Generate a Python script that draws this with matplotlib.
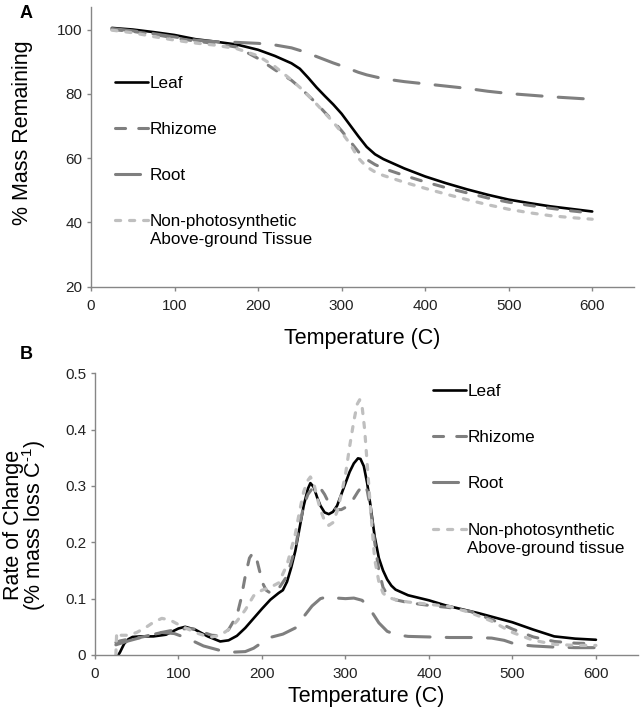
import matplotlib
matplotlib.use("Agg")
import matplotlib.pyplot as plt

plt.rcParams['font.family'] = ['Liberation Sans', 'DejaVu Sans']
plt.rcParams['mathtext.fontset'] = 'custom'
plt.rcParams['mathtext.rm'] = 'Liberation Sans'
plt.rcParams['mathtext.it'] = 'Liberation Sans:italic'
plt.rcParams['mathtext.bf'] = 'Liberation Sans:bold'

# ---------------- Panel A data (% mass remaining) ----------------
tempA = [25, 50, 75, 100, 125, 150, 175, 200, 220, 240, 250, 260, 270, 280, 290,
         300, 310, 320, 330, 340, 350, 375, 400, 425, 450, 475, 500, 525, 550, 575, 600]
leafA = [100.5, 100.0, 99.2, 98.3, 97.0, 96.2, 95.3, 93.7, 91.8, 89.5, 87.8, 85.0, 82.0, 79.3, 76.7,
         73.8, 70.3, 66.8, 63.5, 61.2, 59.7, 56.8, 54.3, 52.2, 50.3, 48.6, 47.1, 46.0, 45.0, 44.2, 43.4]
rhizomeA = [100.0, 99.4, 98.5, 97.4, 96.4, 95.6, 94.5, 91.0, 87.5, 84.2, 82.0, 79.5, 77.0, 74.2, 71.5,
            68.5, 65.3, 62.0, 59.6, 58.0, 56.8, 54.6, 52.6, 50.8, 49.2, 47.6, 46.3, 45.3, 44.4, 43.6, 42.9]
rootA = [100.3, 99.6, 98.7, 97.7, 96.7, 96.2, 96.0, 95.7, 95.2, 94.3, 93.5, 92.6, 91.6, 90.6, 89.6,
         88.7, 87.7, 86.7, 85.9, 85.3, 84.7, 83.8, 83.1, 82.4, 81.7, 80.8, 80.1, 79.6, 79.1, 78.7, 78.3]
npA = [99.8, 99.0, 97.8, 96.7, 95.8, 95.1, 94.0, 91.8, 88.5, 84.3, 82.0, 79.5, 76.8, 74.0, 71.2,
       68.0, 64.5, 60.0, 57.3, 55.7, 54.6, 52.5, 50.6, 48.8, 47.1, 45.5, 44.1, 43.0, 42.1, 41.5, 41.0]

# ---------------- Panel B data (rate of change) ----------------
leafB_x = [28, 30, 35, 40, 45, 55, 70, 85, 100, 108, 120, 135, 150, 160, 170, 180, 190, 200, 210, 220,
           225, 230, 235, 240, 245, 250, 255, 258, 262, 266, 270, 275, 280, 285, 290, 295, 300, 305,
           310, 315, 318, 322, 326, 330, 335, 340, 345, 350, 355, 360, 375, 400, 420, 460, 500, 525,
           550, 575, 600]
leafB_y = [0.0, 0.005, 0.02, 0.028, 0.032, 0.033, 0.033, 0.036, 0.047, 0.05, 0.045, 0.033, 0.024, 0.026,
           0.034, 0.048, 0.065, 0.082, 0.098, 0.11, 0.115, 0.13, 0.155, 0.185, 0.225, 0.265, 0.295,
           0.305, 0.298, 0.28, 0.265, 0.253, 0.25, 0.254, 0.265, 0.285, 0.305, 0.325, 0.34, 0.349,
           0.348, 0.335, 0.305, 0.265, 0.21, 0.172, 0.15, 0.134, 0.123, 0.116, 0.106, 0.097, 0.088,
           0.074, 0.058, 0.045, 0.033, 0.029, 0.027]

rhizomeB_x = [25, 30, 40, 50, 60, 70, 80, 90, 100, 110, 120, 130, 140, 150, 160, 170, 175, 180, 185, 189,
              193, 197, 201, 205, 210, 220, 230, 240, 245, 250, 255, 260, 265, 270, 275, 280, 285, 290,
              295, 300, 305, 310, 315, 320, 323, 326, 330, 335, 340, 345, 350, 360, 375, 400, 425, 450,
              475, 500, 525, 550, 575, 600]
rhizomeB_y = [0.022, 0.025, 0.028, 0.03, 0.033, 0.037, 0.04, 0.043, 0.045, 0.047, 0.046, 0.04, 0.035,
              0.034, 0.045, 0.07, 0.1, 0.14, 0.172, 0.181, 0.174, 0.15, 0.127, 0.115, 0.11, 0.118, 0.14,
              0.19, 0.23, 0.265, 0.285, 0.295, 0.299, 0.296, 0.285, 0.27, 0.262, 0.258, 0.258, 0.262,
              0.268, 0.278, 0.29, 0.3, 0.302, 0.292, 0.26, 0.2, 0.15, 0.12, 0.107, 0.098, 0.093, 0.088,
              0.084, 0.077, 0.063, 0.046, 0.032, 0.024, 0.021, 0.02]

rootB_x = [25, 40, 60, 80, 95, 110, 130, 150, 165, 180, 190, 200, 212, 225, 240, 250, 260, 270, 280, 290,
           300, 310, 320, 330, 340, 350, 360, 375, 400, 425, 450, 475, 490, 500, 510, 525, 550, 575, 600]
rootB_y = [0.018, 0.025, 0.033, 0.04, 0.038, 0.03, 0.016, 0.008, 0.005, 0.006, 0.012, 0.022, 0.032,
           0.037, 0.048, 0.068, 0.087, 0.1, 0.104, 0.101, 0.1, 0.101, 0.097, 0.08, 0.057, 0.042, 0.036,
           0.033, 0.032, 0.031, 0.031, 0.03, 0.026, 0.021, 0.018, 0.016, 0.014, 0.013, 0.013]

npB_x = [25, 26, 30, 40, 50, 60, 70, 80, 90, 100, 110, 120, 130, 140, 150, 160, 170, 180, 190, 200, 210,
         220, 230, 240, 245, 250, 255, 258, 262, 266, 270, 275, 280, 285, 290, 295, 300, 305, 310, 314,
         317, 320, 323, 326, 330, 335, 340, 345, 350, 360, 375, 400, 425, 450, 475, 500, 525, 550, 575,
         600]
npB_y = [0.0, 0.04, 0.035, 0.035, 0.04, 0.048, 0.058, 0.065, 0.062, 0.054, 0.047, 0.04, 0.035, 0.032,
         0.035, 0.045, 0.06, 0.08, 0.105, 0.115, 0.12, 0.128, 0.16, 0.215, 0.255, 0.29, 0.31, 0.316,
         0.305, 0.28, 0.258, 0.238, 0.23, 0.235, 0.255, 0.285, 0.32, 0.37, 0.415, 0.445, 0.453, 0.44,
         0.4, 0.34, 0.26, 0.17, 0.13, 0.11, 0.103, 0.098, 0.094, 0.09, 0.086, 0.075, 0.06, 0.04, 0.026,
         0.019, 0.017, 0.017]

labelsA = ["Leaf", "Rhizome", "Root", "Non-photosynthetic"]
extraA = "Above-ground Tissue"
labelsB = ["Leaf", "Rhizome", "Root", "Non-photosynthetic"]
extraB = "Above-ground tissue"
xticks = [0, 100, 200, 300, 400, 500, 600]
yticksA = [20, 40, 60, 80, 100]
yticksB = [0, 0.1, 0.2, 0.3, 0.4, 0.5]
yticklabelsB = ["0", "0.1", "0.2", "0.3", "0.4", "0.5"]

# ---------------- styles ----------------
DARK = '#7f7f7f'
LIGHT = '#bfbfbf'
SPINE = '#868686'
styles = [
    dict(color='black', lw=1.9, ls='-', solid_capstyle='round'),
    dict(color=DARK, lw=2.2, ls=(0, (3.3, 4.3)), dash_capstyle='round'),
    dict(color=DARK, lw=2.2, ls=(0, (8.2, 5.3)), dash_capstyle='round'),
    dict(color=LIGHT, lw=2.3, ls=(0, (1.6, 2.8)), dash_capstyle='round'),
]

fig = plt.figure(figsize=(6.4, 7.17), dpi=100)
axA = fig.add_axes([0.1422, 0.6001, 0.8484, 0.3901])
axB = fig.add_axes([0.1484, 0.0865, 0.8480, 0.3929])


def style_axes(ax):
    for s in ['top', 'right']:
        ax.spines[s].set_visible(False)
    for s in ['left', 'bottom']:
        ax.spines[s].set_color(SPINE)
        ax.spines[s].set_linewidth(1.0)
    ax.tick_params(axis='both', which='major', direction='out', length=3.2, width=1.0,
                   color=SPINE, labelsize=11, labelcolor='#222222')
    ax.tick_params(axis='x', pad=5.5)
    ax.tick_params(axis='y', pad=3.0)


LEG_KW = dict(loc='upper left', frameon=False, fontsize=12.3, handlelength=1.9,
              handletextpad=0.1, labelspacing=1.82, borderpad=0, borderaxespad=0)

# Panel A
linesA = []
for vals, st in zip([leafA, rhizomeA, rootA, npA], styles):
    ln, = axA.plot(tempA, vals, **st)
    linesA.append(ln)
axA.set_xlim(0, 650)
axA.set_ylim(20, 107)
axA.set_xticks(xticks)
axA.set_yticks(yticksA)
style_axes(axA)
axA.set_xlabel("Temperature (C)", fontsize=15.5)
axA.xaxis.set_label_coords(0.5, -0.146)
axA.set_ylabel("% Mass Remaining", fontsize=15.5)
axA.yaxis.set_label_coords(-0.107, 0.55)
legA = axA.legend(linesA, labelsA, bbox_to_anchor=(0.045, 0.755), **LEG_KW)

# Panel B
linesB = []
for (xs, ys), st in zip([(leafB_x, leafB_y), (rhizomeB_x, rhizomeB_y),
                         (rootB_x, rootB_y), (npB_x, npB_y)], styles):
    ln, = axB.plot(xs, ys, **st)
    linesB.append(ln)
axB.set_xlim(0, 650)
axB.set_ylim(0, 0.5)
axB.set_xticks(xticks)
axB.set_yticks(yticksB)
axB.set_yticklabels(yticklabelsB)
style_axes(axB)
axB.set_xlabel("Temperature (C)", fontsize=15.5)
axB.xaxis.set_label_coords(0.5, -0.11)
axB.set_ylabel("Rate of Change\n(% mass loss C$^{\\text{-1}}$)", fontsize=15.5, linespacing=0.85)
axB.yaxis.set_label_coords(-0.086, 0.46)
legB = axB.legend(linesB, labelsB, bbox_to_anchor=(0.623, 0.961), **LEG_KW)

fig.text(26 / 640, 1 - 13 / 717, "A", fontsize=13, fontweight='bold', ha='center', va='center')
fig.text(26 / 640, 1 - 354 / 717, "B", fontsize=13, fontweight='bold', ha='center', va='center')

# second line of the last legend label, placed under the first line (Excel-style)
fig.canvas.draw()
for ax, leg, extra in [(axA, legA, extraA), (axB, legB, extraB)]:
    ax.annotate(extra, xy=(0, 0), xycoords=leg.get_texts()[3], xytext=(0, -2.2),
                textcoords='offset points', va='top', ha='left', fontsize=12.3)

fig.savefig("out.png", dpi=100)
